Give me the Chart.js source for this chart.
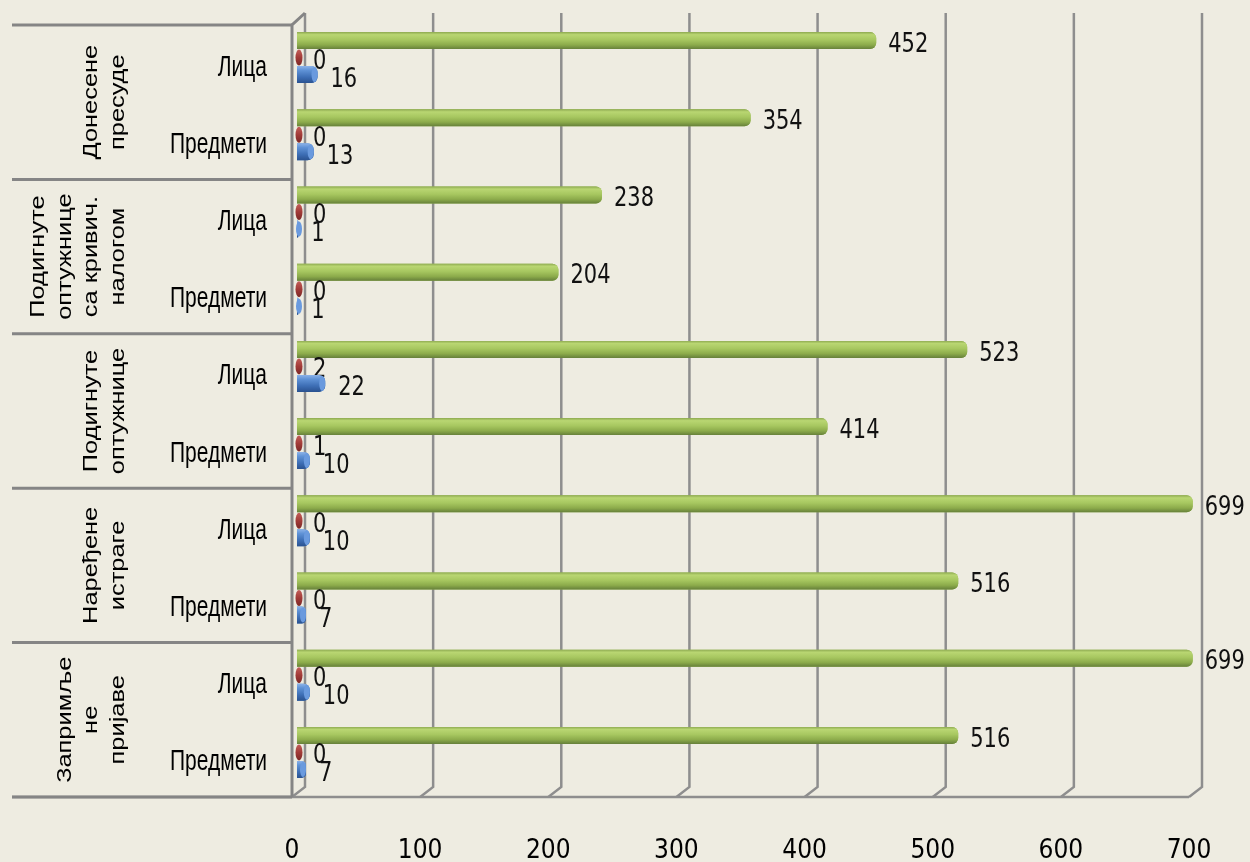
<!DOCTYPE html>
<html>
<head>
<meta charset="utf-8">
<script src="https://cdn.jsdelivr.net/npm/chart.js@4.4.1/dist/chart.umd.min.js"></script>
<style>
html, body { margin: 0; padding: 0; background: #eeece1; }
canvas { display: block; }
</style>
</head>
<body>
<canvas id="reportChart" width="1250" height="862"></canvas>
<script>
// rows top to bottom
var rowLabels = ['Лица', 'Предмети', 'Лица', 'Предмети', 'Лица', 'Предмети', 'Лица', 'Предмети', 'Лица', 'Предмети'];
var groupLabels = [
	['Донесене', 'пресуде'],
	['Подигнуте', 'оптужнице', 'са кривич.', 'налогом'],
	['Подигнуте', 'оптужнице'],
	['Наређене', 'истраге'],
	['Запримље', 'не', 'пријаве']
];
var greenValues = [452, 354, 238, 204, 523, 414, 699, 516, 699, 516];
var redValues = [0, 0, 0, 0, 2, 1, 0, 0, 0, 0];
var blueValues = [16, 13, 1, 1, 22, 10, 10, 7, 10, 7];
var xTicks = [0, 100, 200, 300, 400, 500, 600, 700];

var gridColor = '#8e8e8e';
var numFont = '21px "DejaVu Sans", Verdana, sans-serif';

function makeGrad(ctx, top, h, stops) {
	var g = ctx.createLinearGradient(0, top, 0, top + h);
	stops.forEach(function(s){ g.addColorStop(s[0], s[1]); });
	return g;
}

var barStyles = [
	{ stops: [[0, '#8fab52'], [0.15, '#b9d672'], [0.45, '#a7c760'], [0.75, '#8cab4b'], [1, '#66803a']], cap: null, dx: 12, dy: 4 },
	{ stops: [[0, '#c4605b'], [0.5, '#a23b38'], [1, '#7a2826']], cap: null, dx: 12, dy: 4 },
	{ stops: [[0, '#8db3e8'], [0.25, '#5f92d6'], [0.65, '#3d6eb5'], [1, '#2a5290']], cap: '#6a9ade', dx: 13, dy: 5 }
];

var decor = {
	id: 'decor',
	beforeDatasetsDraw: function(chart) {
		var ctx = chart.ctx, xs = chart.scales.x, ys = chart.scales.y;
		var area = chart.chartArea;
		var floorY = area.bottom + 6, backBottom = area.bottom - 4;
		var topFront = area.top + 6, topBack = area.top - 6;
		ctx.save();
		ctx.strokeStyle = gridColor;
		ctx.lineWidth = 2.5;
		// back wall grid
		xTicks.forEach(function(v){
			var px = xs.getPixelForValue(v);
			ctx.beginPath();
			ctx.moveTo(px + 8, topBack);
			ctx.lineTo(px + 8, backBottom);
			ctx.lineTo(px - 5, floorY);
			ctx.stroke();
		});
		// floor front edge
		ctx.beginPath();
		ctx.moveTo(12, floorY);
		ctx.lineTo(xs.getPixelForValue(700) - 5, floorY);
		ctx.stroke();
		// left wall
		var x0 = xs.getPixelForValue(0);
		ctx.lineWidth = 3;
		ctx.strokeStyle = '#858585';
		ctx.beginPath();
		ctx.moveTo(x0 - 5, floorY);
		ctx.lineTo(x0 - 5, topFront);
		ctx.lineTo(x0 + 8, topBack);
		ctx.stroke();
		// label boxes
		for (var k = 0; k <= groupLabels.length; k++) {
			var by = ys.getPixelForValue(2 * k - 0.5) + 6;
			ctx.beginPath();
			ctx.moveTo(12, by);
			ctx.lineTo(x0 - 5, by);
			ctx.stroke();
		}
		ctx.fillStyle = '#000';
		ctx.textBaseline = 'middle';
		// row labels
		ctx.font = '21px "Liberation Sans", Arial, sans-serif';
		ctx.textAlign = 'right';
		chart.data.labels.forEach(function(t, i){
			ctx.save();
			ctx.translate(267, ys.getPixelForValue(i) + 10);
			ctx.scale(1, 1.38);
			ctx.fillText(t, 0, 0);
			ctx.restore();
		});
		// group captions, rotated
		ctx.font = '20px "Liberation Sans", Arial, sans-serif';
		ctx.textAlign = 'center';
		groupLabels.forEach(function(lines, k){
			var cy = (ys.getPixelForValue(2 * k) + ys.getPixelForValue(2 * k + 1)) / 2 + 6;
			var n = lines.length;
			lines.forEach(function(t, j){
				var cx = 118 - (n - 1 - j) * 26.5;
				ctx.save();
				ctx.translate(cx, cy);
				ctx.rotate(-Math.PI / 2);
				ctx.scale(1.27, 1);
				ctx.fillText(t, 0, 0);
				ctx.restore();
			});
		});
		ctx.restore();
	},
	afterDatasetsDraw: function(chart) {
		var ctx = chart.ctx;
		ctx.save();
		chart.data.datasets.forEach(function(ds, di){
			var meta = chart.getDatasetMeta(di);
			var st = barStyles[di];
			meta.data.forEach(function(el, i){
				var p = el.getProps(['x', 'y', 'base', 'height'], true);
				var top = p.y - p.height / 2;
				var w = p.x - p.base;
				var r = Math.min(6, w / 2, p.height / 2);
				ctx.fillStyle = makeGrad(ctx, top, p.height, st.stops);
				ctx.beginPath();
				if (di === 1) {
					ctx.ellipse(p.base + w / 2, p.y, Math.max(w / 2, 3.5), p.height / 2 - 0.5, 0, 0, Math.PI * 2);
				} else {
					ctx.roundRect(p.base, top, w, p.height, [0, r, r, 0]);
				}
				ctx.fill();
				if (st.cap) {
					ctx.beginPath();
					ctx.ellipse(Math.max(p.x - 3, p.base + 2), p.y, 3, p.height / 2 - 1, 0, 0, Math.PI * 2);
					ctx.fillStyle = st.cap;
					ctx.fill();
				}
				// value label
				ctx.fillStyle = '#111';
				ctx.font = numFont;
				ctx.textAlign = 'left';
				ctx.textBaseline = 'middle';
				ctx.save();
				ctx.translate(p.x + st.dx, p.y + st.dy);
				ctx.scale(1, 1.3);
				ctx.fillText(String(ds.data[i]), 0, 0);
				ctx.restore();
			});
		});
		ctx.restore();
	}
};

var ctx = document.getElementById('reportChart').getContext('2d');
var plot = new Chart(ctx, {
	type: 'bar',
	data: {
		labels: rowLabels,
		datasets: [
			{ label: 'Укупно', data: greenValues, backgroundColor: '#9bbb59', borderRadius: 6 },
			{ label: 'red', data: redValues, backgroundColor: 'rgba(162,59,56,0)', minBarLength: 4 },
			{ label: 'blue', data: blueValues, backgroundColor: '#4f81bd', borderRadius: 6 }
		]
	},
	options: {
		indexAxis: 'y',
		responsive: false,
		animation: false,
		devicePixelRatio: 1,
		datasets: { bar: { categoryPercentage: 0.66, barPercentage: 1, borderSkipped: 'start' } },
		layout: { padding: { top: 19, right: 56, left: 0, bottom: 0 } },
		plugins: { legend: { display: false }, tooltip: { enabled: false } },
		scales: {
			x: {
				min: 0, max: 700,
				afterBuildTicks: function(s){ s.ticks = xTicks.map(function(v){ return { value: v }; }); },
				ticks: { labelOffset: -5, padding: 37, maxRotation: 0, color: '#000',
					font: { family: '"DejaVu Sans Condensed", "DejaVu Sans", sans-serif', size: 26 } },
				grid: { display: false },
				border: { display: false },
				afterFit: function(s){ s.height = 71; s.paddingLeft = 0; s.paddingRight = 0; }
			},
			y: {
				ticks: { display: false },
				grid: { display: false },
				border: { display: false },
				afterFit: function(s){ s.width = 297; s.paddingTop = 0; s.paddingBottom = 0; }
			}
		}
	},
	plugins: [decor]
});
</script>
</body>
</html>
